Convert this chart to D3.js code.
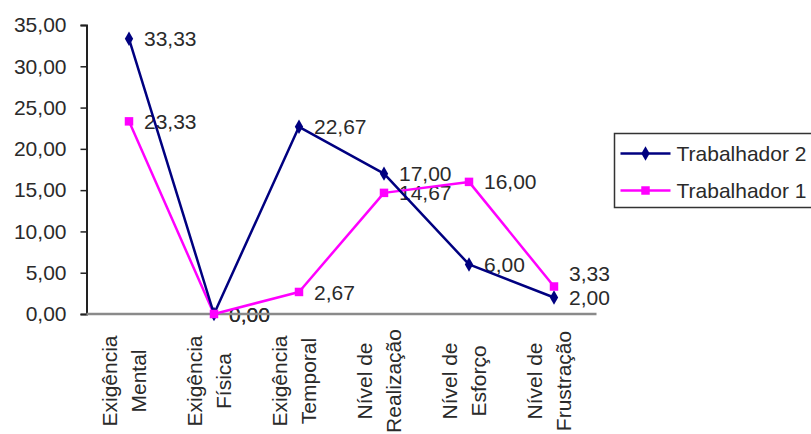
<!DOCTYPE html>
<html>
<head>
<meta charset="utf-8">
<script src="https://cdn.jsdelivr.net/npm/d3@7"></script>
<style>
  html, body { margin: 0; padding: 0; background: #fff; }
  svg { display: block; }
  text { font-family: "Liberation Sans", Arial, sans-serif; fill: #2a2a2a; }
</style>
</head>
<body>
<svg id="chart" width="811" height="434"></svg>
<script>
// Categories (each label split into its two printed lines)
const categories = [
  ["Exigência", "Mental"],
  ["Exigência", "Física"],
  ["Exigência", "Temporal"],
  ["Nível de", "Realização"],
  ["Nível de", "Esforço"],
  ["Nível de", "Frustração"]
];
const seriesNames = ["Trabalhador 2", "Trabalhador 1"];
const trabalhador2 = [33.33, 0.00, 22.67, 17.00, 6.00, 2.00];
const trabalhador1 = [23.33, 0.00, 2.67, 14.67, 16.00, 3.33];
const yTicks = [0, 5, 10, 15, 20, 25, 30, 35];

const ptBR = d3.formatLocale({ decimal: ",", thousands: ".", grouping: [3], currency: ["R$", ""] });
const fmt = ptBR.format(".2f");

const svg = d3.select("#chart");
const FONT = 21;

const x = d3.scaleBand()
  .domain(categories.map((d, i) => i))
  .range([86.5, 596.5]);
const cx = i => x(i) + x.bandwidth() / 2;

const y = d3.scaleLinear().domain([0, 35]).range([314, 25]);

const series = [
  { name: seriesNames[0], values: trabalhador2, color: "#000080", shape: "diamond" },
  { name: seriesNames[1], values: trabalhador1, color: "#ff00ff", shape: "square" }
];

// Y axis
const yAxis = svg.append("g")
  .attr("transform", "translate(86.5,0)")
  .call(d3.axisLeft(y).tickValues(yTicks).tickFormat(fmt).tickSize(6).tickPadding(14));
yAxis.select(".domain").attr("stroke", "#222").attr("stroke-width", 2);
yAxis.selectAll(".tick line").attr("stroke", "#222").attr("stroke-width", 1.5);
yAxis.selectAll(".tick text")
  .attr("font-size", FONT)
  .attr("font-family", "Liberation Sans, Arial, sans-serif")
  .attr("fill", "#2a2a2a");

// Category labels, rotated, lines centred on each other
const labelG = svg.append("g");
categories.forEach((lines, i) => {
  const g = labelG.append("g")
    .attr("transform", `translate(${cx(i)},381) rotate(-90)`);
  lines.forEach((ln, k) => {
    g.append("text")
      .attr("x", 0)
      .attr("y", k === 0 ? -12 : 17)
      .attr("text-anchor", "middle")
      .attr("font-size", FONT)
      .text(ln);
  });
});

// Value labels, right of each point; nudge the upper one when two distinct values collide
const labels = [];
series.forEach(s => s.values.forEach((v, i) => labels.push({ i, v, ly: y(v) })));
d3.group(labels, d => d.i).forEach(group => {
  group.sort((a, b) => a.ly - b.ly);
  for (let k = 1; k < group.length; k++) {
    const gap = group[k].ly - group[k - 1].ly;
    if (gap > 0 && gap < 16) group[k - 1].ly = group[k].ly - 24;
  }
});
svg.append("g").selectAll("text").data(labels).join("text")
  .attr("x", d => cx(d.i) + 15)
  .attr("y", d => d.ly)
  .attr("dy", "0.36em")
  .attr("font-size", FONT)
  .text(d => fmt(d.v));

// X axis line
svg.append("line")
  .attr("x1", x.range()[0]).attr("x2", x.range()[1])
  .attr("y1", y(0)).attr("y2", y(0))
  .attr("stroke", "#8a8a8a").attr("stroke-width", 2.5);

const line = d3.line().x((d, i) => cx(i)).y(d => y(d));

// Lines: pink underneath, navy on top
[series[1], series[0]].forEach(s => {
  svg.append("path")
    .datum(s.values)
    .attr("d", line)
    .attr("fill", "none")
    .attr("stroke", s.color)
    .attr("stroke-width", 2.5)
    .attr("stroke-linejoin", "round");
});

const sym = {
  diamond: d3.symbol().type(d3.symbolDiamond).size(60),
  square: d3.symbol().type(d3.symbolSquare).size(72)
};

function drawMarkers(s) {
  svg.append("g").selectAll("path").data(s.values).join("path")
    .attr("transform", (d, i) => `translate(${cx(i)},${y(d)})`)
    .attr("d", sym[s.shape])
    .attr("fill", s.color);
}
drawMarkers(series[0]);
drawMarkers(series[1]);

// Legend
const leg = svg.append("g").attr("transform", "translate(614.5,133.5)");
leg.append("rect")
  .attr("width", 220).attr("height", 74)
  .attr("fill", "#fff").attr("stroke", "#333").attr("stroke-width", 1.5);
series.forEach((s, k) => {
  const ry = 20 + k * 37;
  leg.append("line")
    .attr("x1", 6).attr("x2", 56).attr("y1", ry).attr("y2", ry)
    .attr("stroke", s.color).attr("stroke-width", 2.5);
  leg.append("path")
    .attr("transform", `translate(31,${ry})`)
    .attr("d", sym[s.shape])
    .attr("fill", s.color);
  leg.append("text")
    .attr("x", 62).attr("y", ry).attr("dy", "0.36em")
    .attr("font-size", FONT)
    .text(s.name);
});
</script>
</body>
</html>
